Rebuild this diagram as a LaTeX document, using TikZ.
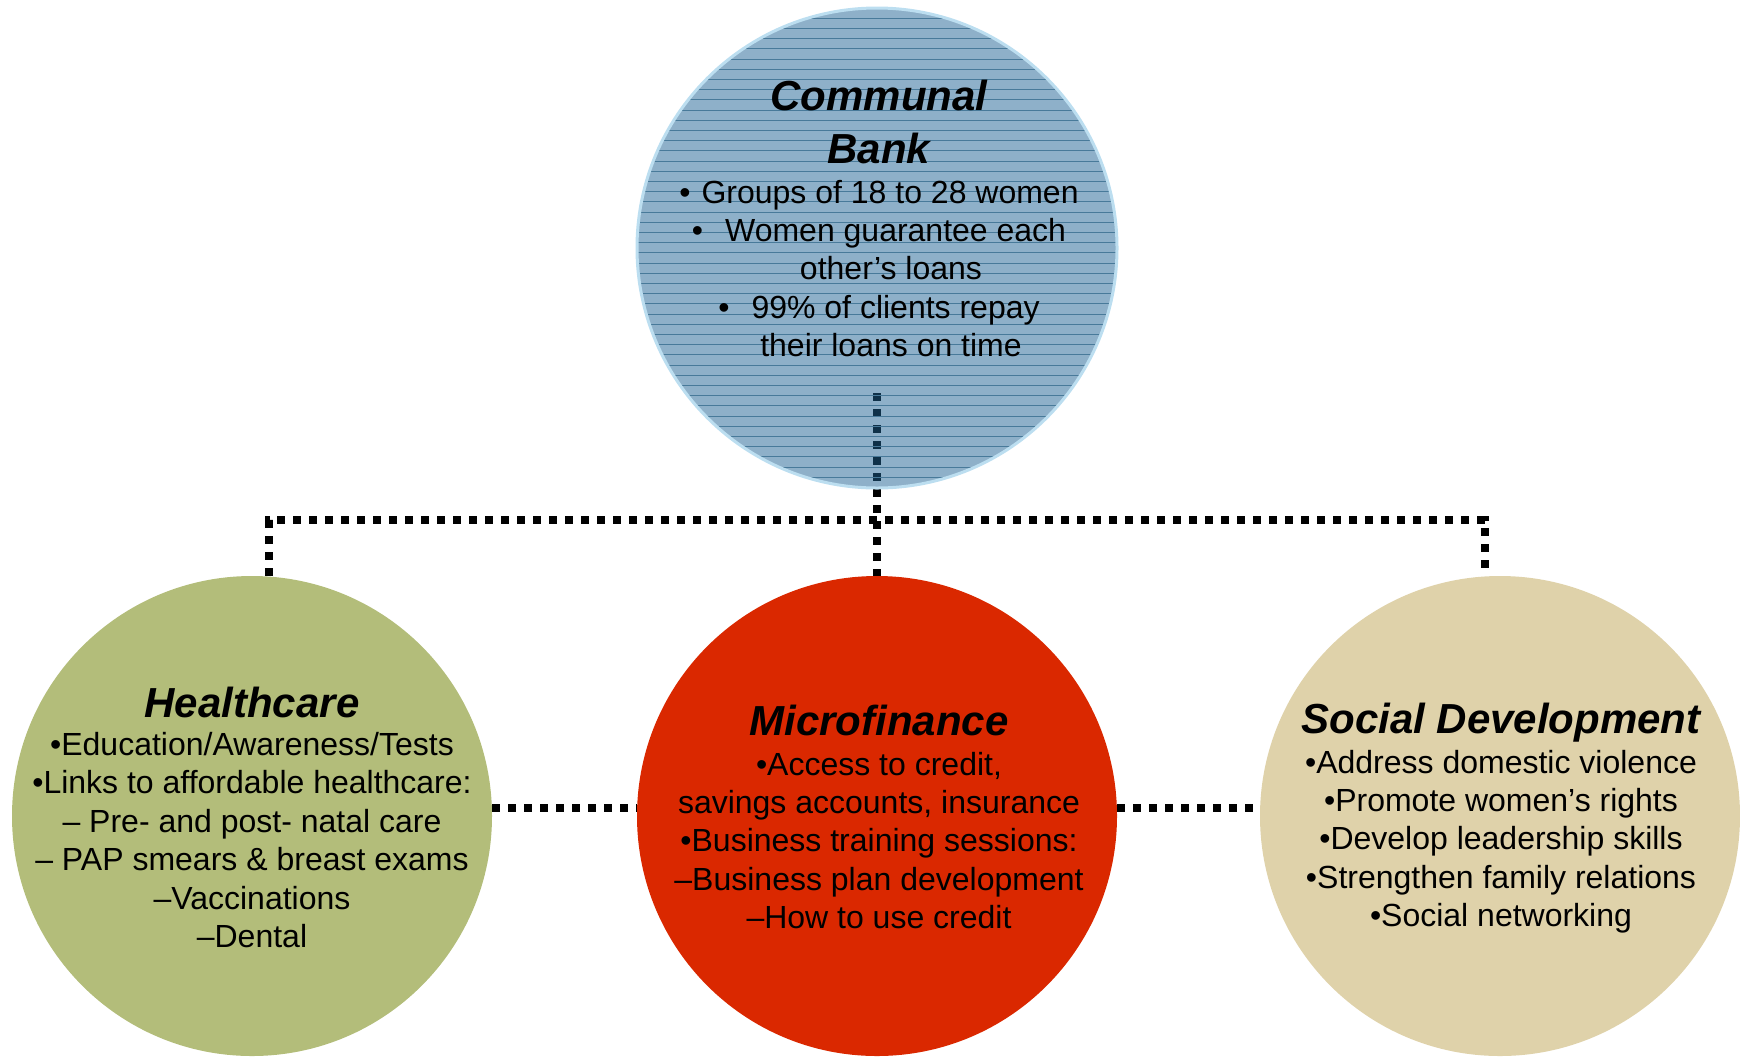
\documentclass[tikz,border=0pt]{standalone}
\usepackage{fontspec}
\setmainfont{Liberation Sans}
\usetikzlibrary{backgrounds}

\definecolor{bankfill}{RGB}{30,98,147}
\definecolor{bankedge}{RGB}{188,222,240}
\definecolor{bankline}{RGB}{72,122,154}
\definecolor{healthgreen}{RGB}{179,189,122}
\definecolor{financered}{RGB}{218,40,0}
\definecolor{socialbeige}{RGB}{223,210,170}

\tikzset{
  hub/.style={circle, inner sep=0pt, minimum size=240pt, draw=none},
  dotlink/.style={line width=4pt, dash pattern=on 4pt off 4pt, black, line cap=butt},
  body/.style={anchor=base, inner sep=0pt, font=\fontsize{16}{19.2}\selectfont},
}
\newcommand{\circtitle}[1]{\smash{\fontsize{21}{25}\selectfont\bfseries\itshape #1}}

\begin{document}
\begin{tikzpicture}[x=0.5pt, y=-0.5pt]
\useasboundingbox (0,0) rectangle (1740,1061);

% the four circles
\node[hub, fill=bankfill, fill opacity=0.5, draw=bankedge, line width=1.5pt,
      path picture={
        \foreach \k in {1,...,47}
          \draw[bankline, line width=0.5pt, opacity=1]
            ([yshift=-\k*5.1pt]path picture bounding box.north west) --
            ([yshift=-\k*5.1pt]path picture bounding box.north east);
      }] (bank) at (877,248) {};
\node[hub, fill=healthgreen] (hc) at (252,816) {};
\node[hub, fill=financered] (mf) at (877,816) {};
\node[hub, fill=socialbeige] (sd) at (1500,816) {};

% dotted connectors, kept beneath the circles
\coordinate (stem) at (877,393);
\coordinate (busL) at (269,520);
\coordinate (busR) at (1485,520);
\begin{scope}[on background layer]
  \draw[dotlink] (stem) -- (mf.north);
  \draw[dotlink] (busL |- hc.north) -- (busL) -- (busR) -- (busR |- sd.north);
  \draw[dotlink] ([yshift=4pt]hc.east) -- ([yshift=4pt]mf.west);
  \draw[dotlink] ([yshift=4pt]mf.east) -- ([yshift=4pt]sd.west);
\end{scope}

% texts
\node[body] (banktext) at (879,110) {\begin{tabular}[t]{@{}c@{}}
  \circtitle{Communal}\\[7.35pt]
  \circtitle{Bank}\\[0.8pt]
  •\hspace{5.5pt}Groups of 18 to 28 women\\
  •\hspace{11pt}Women guarantee each\\
  \hspace*{12pt}other’s loans\\
  •\hspace{11pt}99\% of clients repay\\
  \hspace*{12pt}their loans on time
\end{tabular}};

\node[body] (hctext) at (252,717) {\begin{tabular}[t]{@{}c@{}}
  \circtitle{Healthcare}\\
  •Education/Awareness/Tests\\
  •Links to affordable healthcare:\\
  – Pre- and post- natal care\\
  – PAP smears \& breast exams\\
  –Vaccinations\\
  –Dental
\end{tabular}};

\node[body] (mftext) at (879,735) {\begin{tabular}[t]{@{}c@{}}
  \circtitle{Microfinance}\\[0.8pt]
  •Access to credit,\\
  savings accounts, insurance\\
  •Business training sessions:\\
  –Business plan development\\
  –How to use credit
\end{tabular}};

\node[body] (sdtext) at (1501,733) {\begin{tabular}[t]{@{}c@{}}
  \circtitle{Social Development}\\[0.8pt]
  •Address domestic violence\\
  •Promote women’s rights\\
  •Develop leadership skills\\
  •Strengthen family relations\\
  •Social networking
\end{tabular}};
\end{tikzpicture}
\end{document}
